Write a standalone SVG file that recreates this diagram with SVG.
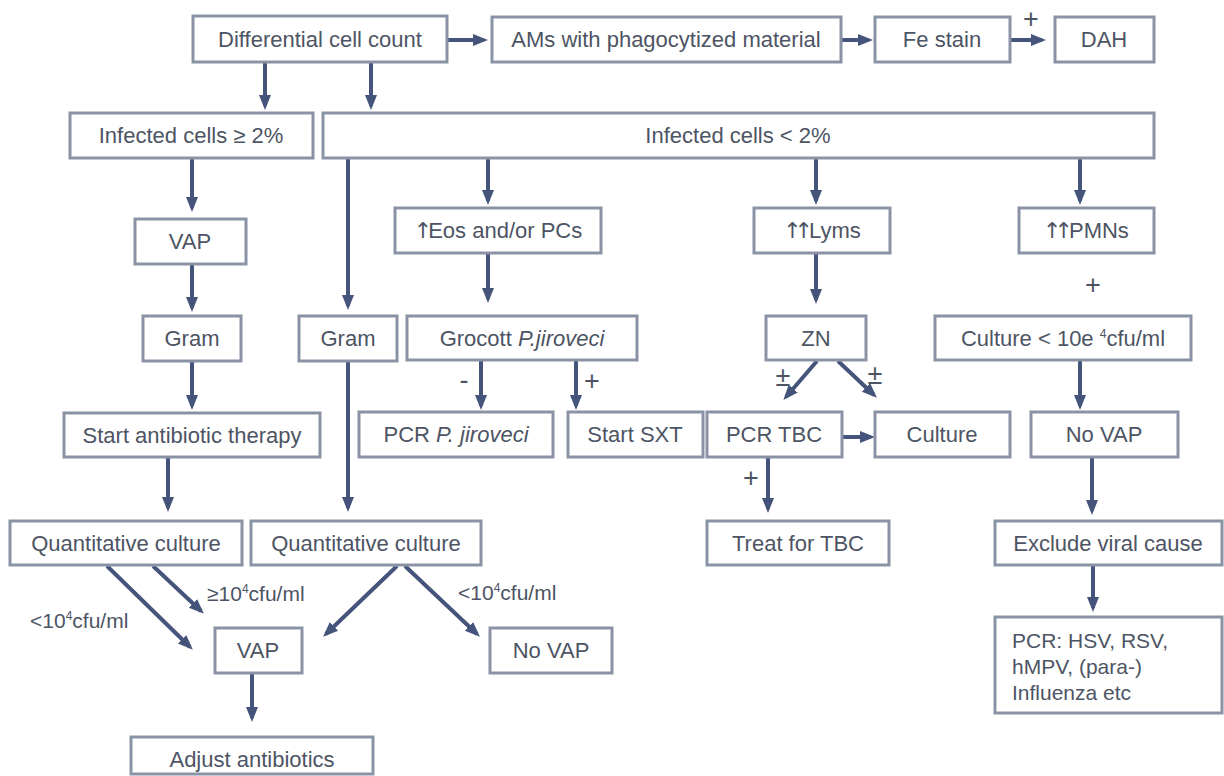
<svg xmlns="http://www.w3.org/2000/svg" width="1224" height="776" viewBox="0 0 1224 776">
<defs>
<style>
.box{fill:#ffffff;stroke:#8a93a6;stroke-width:3}
.t{font-family:"Liberation Sans",Arial,sans-serif;font-size:22px;fill:#4d5464;text-anchor:middle}
.l{font-family:"Liberation Sans",Arial,sans-serif;font-size:21px;fill:#4d5464}
.p{font-family:"Liberation Sans",Arial,sans-serif;font-size:27px;fill:#4d5464;text-anchor:middle}
.ar{font-family:"DejaVu Sans",sans-serif;fill:#4d5464;letter-spacing:-7px}
.c{stroke:#45547a;stroke-width:4;fill:none;marker-end:url(#ah)}
.sup{font-size:12px}
</style>
<marker id="ah" markerUnits="userSpaceOnUse" markerWidth="15" markerHeight="14" viewBox="0 0 15 14" refX="11" refY="7" orient="auto">
<path d="M0,1 L15,7 L0,13 Z" fill="#45547a"/>
</marker>
</defs>
<rect width="1224" height="776" fill="#ffffff"/>

<g id="connectors">
<line class="c" x1="447" y1="40" x2="484" y2="40"/>
<line class="c" x1="841" y1="40" x2="869" y2="40"/>
<line class="c" x1="1010" y1="40" x2="1042" y2="40"/>
<line class="c" x1="265" y1="62" x2="265" y2="106"/>
<line class="c" x1="371" y1="62" x2="371" y2="106"/>
<line class="c" x1="192" y1="158" x2="192" y2="208"/>
<line class="c" x1="192" y1="264" x2="192" y2="308"/>
<line class="c" x1="192" y1="361" x2="192" y2="406"/>
<line class="c" x1="168" y1="457" x2="168" y2="508"/>
<line class="c" x1="348" y1="158" x2="348" y2="306"/>
<line class="c" x1="348" y1="361" x2="348" y2="508"/>
<line class="c" x1="488" y1="158" x2="488" y2="201"/>
<line class="c" x1="488" y1="253" x2="488" y2="299"/>
<line class="c" x1="481" y1="360" x2="481" y2="406"/>
<line class="c" x1="576" y1="360" x2="576" y2="406"/>
<line class="c" x1="816" y1="158" x2="816" y2="201"/>
<line class="c" x1="816" y1="253" x2="816" y2="300"/>
<line class="c" x1="817" y1="361" x2="786" y2="397"/>
<line class="c" x1="838" y1="361" x2="874" y2="395"/>
<line class="c" x1="842" y1="437" x2="871" y2="437"/>
<line class="c" x1="768" y1="457" x2="768" y2="509"/>
<line class="c" x1="1080" y1="158" x2="1080" y2="201"/>
<line class="c" x1="1080" y1="360" x2="1080" y2="406"/>
<line class="c" x1="1092" y1="457" x2="1092" y2="511"/>
<line class="c" x1="1093" y1="565" x2="1093" y2="608"/>
<line class="c" x1="107" y1="566" x2="190" y2="647"/>
<line class="c" x1="153" y1="566" x2="201" y2="611"/>
<line class="c" x1="397" y1="566" x2="326" y2="634"/>
<line class="c" x1="405" y1="566" x2="477" y2="634"/>
<line class="c" x1="252" y1="673" x2="252" y2="718"/>
<text class="p" x="1031" y="28">+</text>
<text class="p" x="464" y="389">-</text>
<text class="p" x="592" y="390">+</text>
<text class="p" x="783" y="386">±</text>
<text class="p" x="875" y="384">±</text>
<text class="p" x="751" y="487">+</text>
<text class="p" x="1093" y="294">+</text>
<text class="l" x="207" y="601">≥10<tspan class="sup" dy="-8">4</tspan><tspan dy="8">cfu/ml</tspan></text>
<text class="l" x="30" y="628">&lt;10<tspan class="sup" dy="-8">4</tspan><tspan dy="8">cfu/ml</tspan></text>
<text class="l" x="458" y="600">&lt;10<tspan class="sup" dy="-8">4</tspan><tspan dy="8">cfu/ml</tspan></text>
</g>

<g id="diff"><rect class="box" x="193" y="16" width="254" height="46"/><text class="t" x="320" y="47">Differential cell count</text></g>
<g id="ams"><rect class="box" x="492" y="17" width="349" height="45"/><text class="t" x="666" y="47">AMs with phagocytized material</text></g>
<g id="fe"><rect class="box" x="875" y="17" width="135" height="45"/><text class="t" x="942" y="47">Fe stain</text></g>
<g id="dah"><rect class="box" x="1055" y="17" width="99" height="45"/><text class="t" x="1104" y="47">DAH</text></g>
<g id="inf-ge"><rect class="box" x="70" y="113" width="243" height="45"/><text class="t" x="191" y="143">Infected cells ≥ 2%</text></g>
<g id="inf-lt"><rect class="box" x="323" y="113" width="831" height="45"/><text class="t" x="738" y="143">Infected cells &lt; 2%</text></g>
<g id="vap1"><rect class="box" x="135" y="219" width="111" height="45"/><text class="t" x="190" y="249">VAP</text></g>
<g id="eos"><rect class="box" x="395" y="208" width="206" height="45"/><text class="t" x="498" y="238"><tspan class="ar">↑</tspan><tspan dx="3">Eos and/or PCs</tspan></text></g>
<g id="lyms"><rect class="box" x="754" y="208" width="136" height="45"/><text class="t" x="822" y="238"><tspan class="ar">↑↑</tspan><tspan dx="3">Lyms</tspan></text></g>
<g id="pmns"><rect class="box" x="1019" y="208" width="135" height="45"/><text class="t" x="1086" y="238"><tspan class="ar">↑↑</tspan><tspan dx="3">PMNs</tspan></text></g>
<g id="gram1"><rect class="box" x="143" y="316" width="98" height="45"/><text class="t" x="192" y="346">Gram</text></g>
<g id="gram2"><rect class="box" x="299" y="316" width="98" height="45"/><text class="t" x="348" y="346">Gram</text></g>
<g id="grocott"><rect class="box" x="407" y="316" width="230" height="44"/><text class="t" x="522" y="346">Grocott  <tspan font-style="italic">P.jiroveci</tspan></text></g>
<g id="zn"><rect class="box" x="766" y="316" width="100" height="44"/><text class="t" x="816" y="346">ZN</text></g>
<g id="cult-lt"><rect class="box" x="935" y="316" width="256" height="44"/><text class="t" x="1063" y="346">Culture &lt; 10e <tspan class="sup" dy="-8">4</tspan><tspan dy="8">cfu/ml</tspan></text></g>
<g id="start-ab"><rect class="box" x="64" y="413" width="256" height="44"/><text class="t" x="192" y="443">Start antibiotic therapy</text></g>
<g id="pcr-pj"><rect class="box" x="359" y="412" width="194" height="45"/><text class="t" x="456" y="442">PCR <tspan font-style="italic">P. jiroveci</tspan></text></g>
<g id="sxt"><rect class="box" x="568" y="412" width="135" height="45"/><text class="t" x="635" y="442">Start SXT</text></g>
<g id="pcr-tbc"><rect class="box" x="707" y="412" width="135" height="45"/><text class="t" x="774" y="442">PCR TBC</text></g>
<g id="culture"><rect class="box" x="875" y="412" width="135" height="45"/><text class="t" x="942" y="442">Culture</text></g>
<g id="novap1"><rect class="box" x="1031" y="412" width="147" height="45"/><text class="t" x="1104" y="442">No VAP</text></g>
<g id="qc1"><rect class="box" x="10" y="521" width="232" height="44"/><text class="t" x="126" y="551">Quantitative culture</text></g>
<g id="qc2"><rect class="box" x="251" y="521" width="230" height="44"/><text class="t" x="366" y="551">Quantitative culture</text></g>
<g id="treat"><rect class="box" x="707" y="521" width="182" height="44"/><text class="t" x="798" y="551">Treat for TBC</text></g>
<g id="excl"><rect class="box" x="995" y="521" width="227" height="44"/><text class="t" x="1108" y="551">Exclude viral cause</text></g>
<g id="pcr-viral"><rect class="box" x="995" y="617" width="227" height="96"/>
<text class="l" x="1012" y="648">PCR: HSV, RSV,</text>
<text class="l" x="1012" y="674">hMPV, (para-)</text>
<text class="l" x="1012" y="700">Influenza etc</text></g>
<g id="vap2"><rect class="box" x="215" y="628" width="87" height="45"/><text class="t" x="258" y="658">VAP</text></g>
<g id="novap2"><rect class="box" x="490" y="628" width="122" height="45"/><text class="t" x="551" y="658">No VAP</text></g>
<g id="adjust"><rect class="box" x="131" y="737" width="242" height="37"/><text class="t" x="252" y="767">Adjust antibiotics</text></g>
</svg>
